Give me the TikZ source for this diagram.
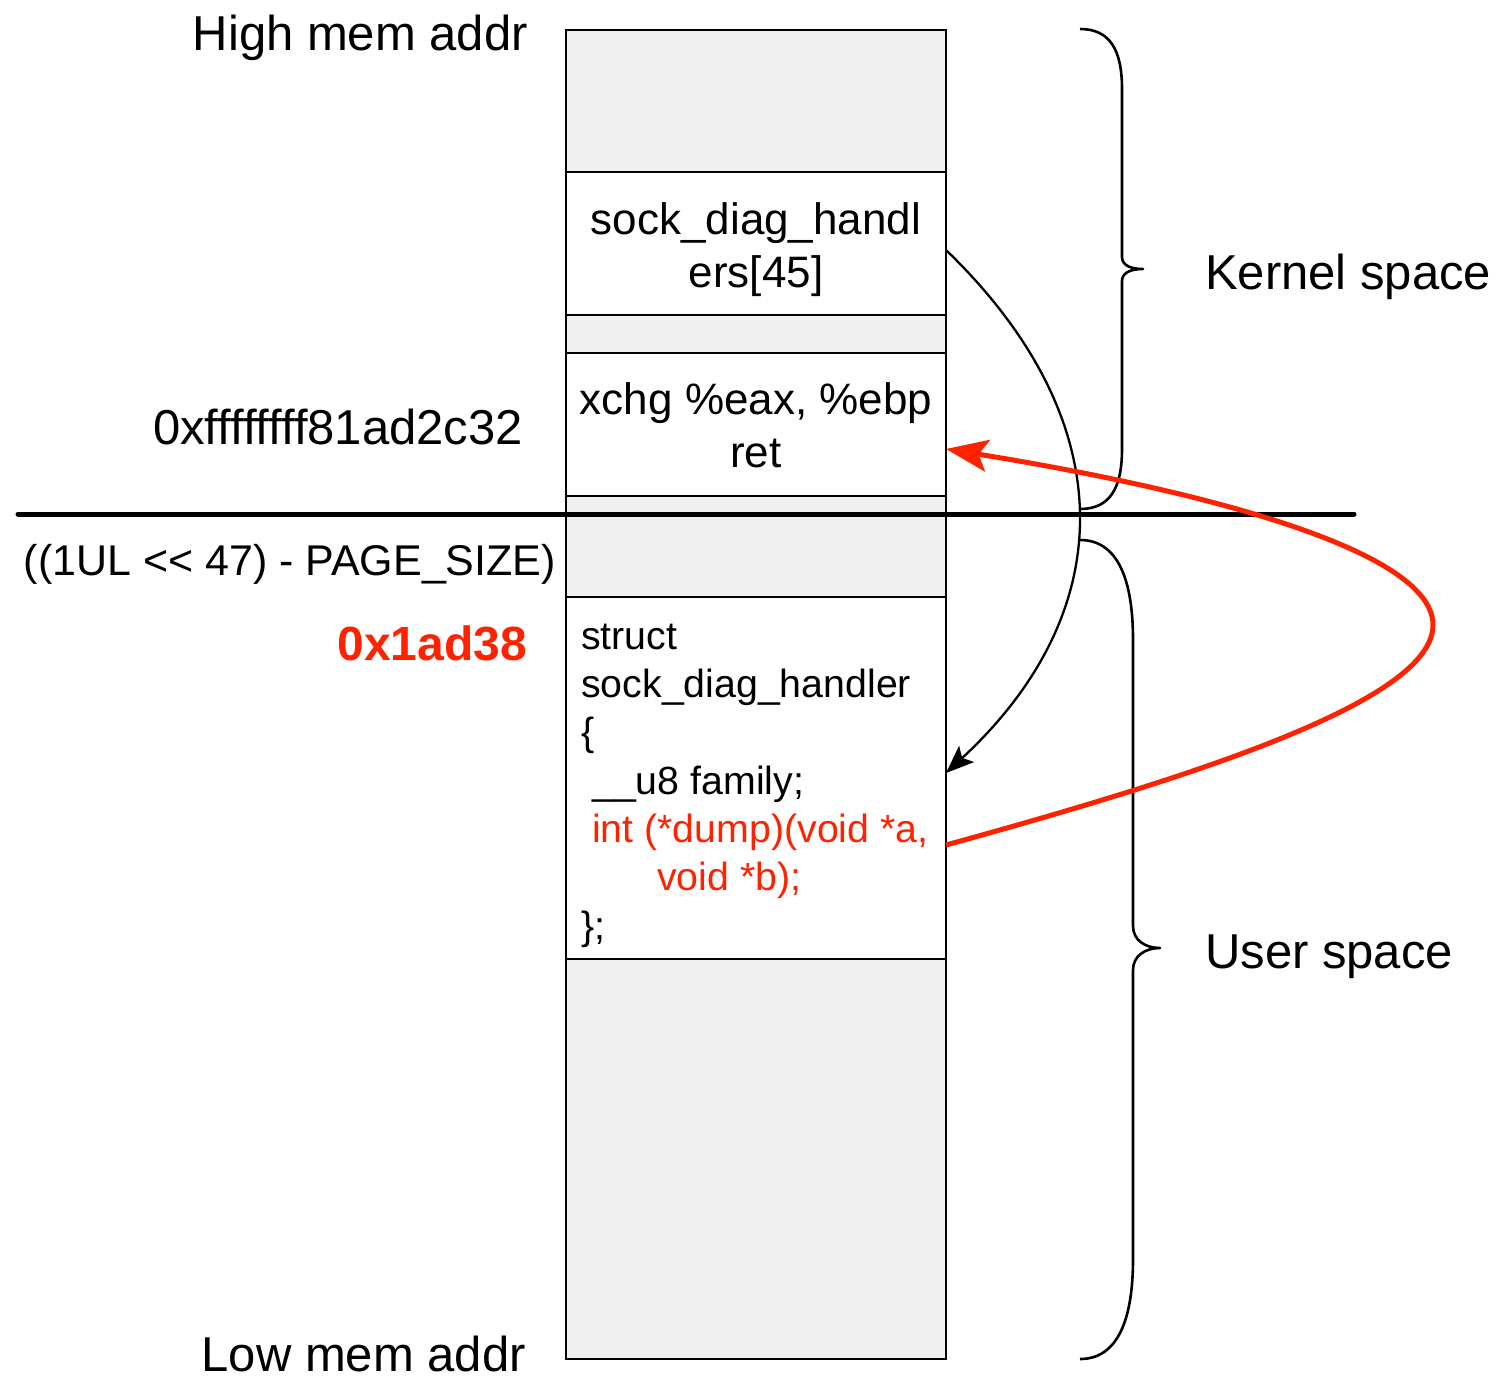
\documentclass[tikz,border=0pt]{standalone}
\usepackage{fontspec}
\setmainfont{Liberation Sans}
\usetikzlibrary{arrows.meta}

\definecolor{cellgrey}{HTML}{F0F0F0}
\definecolor{hotred}{HTML}{FF2200}

\begin{document}
\begin{tikzpicture}[x=1pt,y=-1pt,
  cell/.style={draw=black, line width=2.5pt, minimum width=380pt, inner sep=0pt, outer sep=0pt},
  emptycell/.style={cell, fill=cellgrey},
  textcell/.style={cell, fill=white},
  biglabel/.style={inner sep=0pt, font=\fontsize{49}{59}\selectfont},
  celltext/.style={inner sep=0pt, align=center, font=\fontsize{44}{53}\selectfont},
  codetext/.style={inner sep=0pt, align=left, font=\fontsize{39.3}{48.3}\selectfont},
  bracestyle/.style={line width=2.6pt, line join=round},
  pointer/.style={line width=2.3pt, -{Stealth[length=28pt,width=22pt,inset=6pt]}},
  hijack/.style={line width=5pt, hotred, -{Stealth[length=42pt,width=32pt,inset=9pt]}}
]
\useasboundingbox (0,0) rectangle (1495,1381);

% memory stack, top = high addresses
\node[emptycell, minimum height=142pt] (top)    at (756,101)   {};
\node[textcell,  minimum height=143pt] (hand)   at (756,243.5) {};
\node[emptycell, minimum height=38pt]  (gapa)   at (756,334)   {};
\node[textcell,  minimum height=143pt] (xchg)   at (756,424.5) {};
\node[emptycell, minimum height=101pt] (gapb)   at (756,546.5) {};
\node[textcell,  minimum height=362pt] (struct) at (756,778)   {};
\node[emptycell, minimum height=400pt] (bottom) at (756,1159)  {};

% cell contents
\node[celltext] (handtext) at (756,250) {sock\_diag\_handl\\ers[45]};
\node[celltext] (xchgtext) at (756,425.5) {xchg \%eax, \%ebp\\ret};
\node[codetext, anchor=west] (structtext) at (581,785.5)
  {struct\\
   sock\_diag\_handler\\
   \{\\
   \hspace*{11pt}\_\_u8 family;\\
   \hspace*{11pt}\textcolor{hotred}{int (*dump)(void *a,}\\
   \hspace*{76pt}\textcolor{hotred}{void *b);}\\
   \};};

% address labels
\node[biglabel, anchor=base east] (high) at (528,51) {High mem addr};
\node[biglabel, anchor=base east] (low) at (526,1371) {Low mem addr};
\node[biglabel, anchor=base east] (gadget) at (523,444) {0xffffffff81ad2c32};
\node[inner sep=0pt, anchor=base east, font=\fontsize{43}{52}\selectfont] (limit) at (556,575) {((1UL <\kern0pt< 47) - PAGE\_SIZE)};
\node[biglabel, anchor=base east, text=hotred, font=\fontsize{48}{58}\selectfont\bfseries] (fake) at (527,660) {0x1ad38};

% kernel / user boundary
\coordinate (splitL) at (18,514);
\coordinate (splitR) at (1354,514);
\draw[line width=5pt, line cap=round] (splitL) -- (splitR);

% braces
\draw[bracestyle] (1080,29) .. controls (1110,29) and (1122,50) .. (1122,89)
  -- (1122,257) .. controls (1122,265) and (1130,269) .. (1143,269)
  .. controls (1130,269) and (1122,273) .. (1122,281)
  -- (1122,449) .. controls (1122,488) and (1110,509) .. (1080,509);
\draw[bracestyle] (1080,540) .. controls (1118,540) and (1133,580) .. (1133,640)
  -- (1133,926) .. controls (1133,940) and (1145,948) .. (1160,948)
  .. controls (1145,948) and (1133,956) .. (1133,970)
  -- (1133,1259) .. controls (1133,1319) and (1118,1359) .. (1080,1359);
\node[biglabel, anchor=base west] (kernel) at (1205,289) {Kernel space};
\node[biglabel, anchor=base west] (user) at (1205,968) {User space};

% handler table entry points to the fake struct
\draw[pointer] ([yshift=-6.5pt]hand.east) .. controls (1122,420) and (1122,610) .. ([yshift=5pt]struct.east);

% dump pointer redirected to the gadget
\draw[hijack] ([yshift=-67pt]struct.east) .. controls (1200,775) and (1433,700) .. (1433,625)
  .. controls (1433,550) and (1200,490) .. ([yshift=-24.5pt]xchg.east);
\end{tikzpicture}
\end{document}
